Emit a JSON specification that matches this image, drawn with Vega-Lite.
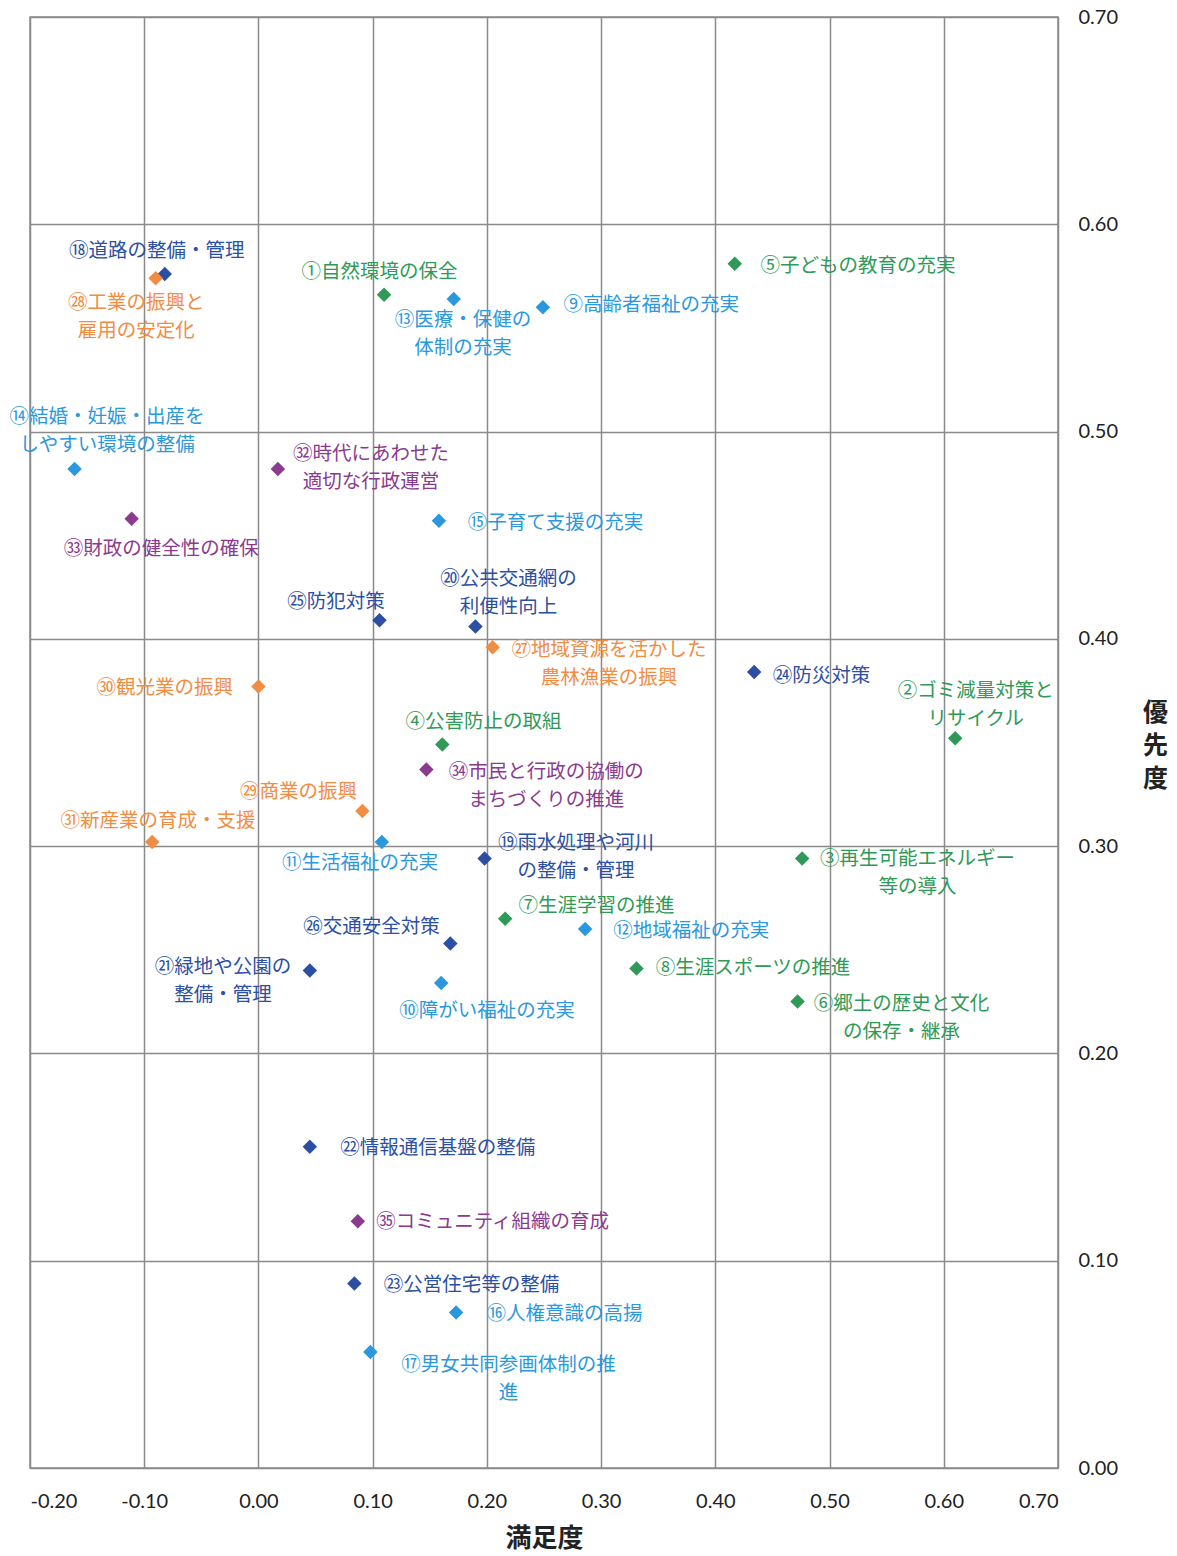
{
  "$schema": "https://vega.github.io/schema/vega-lite/v6.json",
  "width": 1028,
  "height": 1451,
  "autosize": {"type": "none"},
  "padding": {"left": 30, "top": 17, "right": 119, "bottom": 88},
  "background": "white",
  "config": {
    "view": {"stroke": "#8a8a8a", "strokeWidth": 1.5},
    "axis": {
      "grid": true,
      "gridColor": "#8a8a8a",
      "gridWidth": 1.5,
      "gridOpacity": 1,
      "domain": false,
      "ticks": false,
      "labelFont": "Lato",
      "labelFontSize": 20,
      "labelColor": "#222222",
      "titleFont": "Noto Sans CJK JP",
      "titleFontSize": 26,
      "titleFontWeight": "bold",
      "titleColor": "#222222"
    },
    "axisX": {"labelExpr": "replace(datum.label, '−', '-')", "labelPadding": 23, "titlePadding": 14},
    "axisY": {"titleX": 97, "titleY": 695, "titleAlign": "center", "titleBaseline": "middle", "titleAngle": 0, "titleFontSize": 25, "titleLineHeight": 33, "labelPadding": 20}
  },
  "data": {
    "values": [
      {"no": 1, "label": "①自然環境の保全", "group": "環境・教育", "x": 0.110, "y": 0.566, "lx": 0.106, "ly": 0.577},
      {"no": 2, "label": "②ゴミ減量対策と\nリサイクル", "group": "環境・教育", "x": 0.610, "y": 0.352, "lx": 0.628, "ly": 0.3748},
      {"no": 3, "label": "③再生可能エネルギー\n等の導入", "group": "環境・教育", "x": 0.476, "y": 0.294, "lx": 0.577, "ly": 0.2938},
      {"no": 4, "label": "④公害防止の取組", "group": "環境・教育", "x": 0.161, "y": 0.349, "lx": 0.197, "ly": 0.360},
      {"no": 5, "label": "⑤子どもの教育の充実", "group": "環境・教育", "x": 0.417, "y": 0.581, "lx": 0.525, "ly": 0.580},
      {"no": 6, "label": "⑥郷土の歴史と文化\nの保存・継承", "group": "環境・教育", "x": 0.472, "y": 0.225, "lx": 0.563, "ly": 0.2238},
      {"no": 7, "label": "⑦生涯学習の推進", "group": "環境・教育", "x": 0.216, "y": 0.265, "lx": 0.296, "ly": 0.271},
      {"no": 8, "label": "⑧生涯スポーツの推進", "group": "環境・教育", "x": 0.331, "y": 0.241, "lx": 0.433, "ly": 0.241},
      {"no": 9, "label": "⑨高齢者福祉の充実", "group": "健康・福祉", "x": 0.249, "y": 0.560, "lx": 0.344, "ly": 0.561},
      {"no": 10, "label": "⑩障がい福祉の充実", "group": "健康・福祉", "x": 0.160, "y": 0.234, "lx": 0.200, "ly": 0.2205},
      {"no": 11, "label": "⑪生活福祉の充実", "group": "健康・福祉", "x": 0.108, "y": 0.302, "lx": 0.089, "ly": 0.292},
      {"no": 12, "label": "⑫地域福祉の充実", "group": "健康・福祉", "x": 0.286, "y": 0.260, "lx": 0.379, "ly": 0.259},
      {"no": 13, "label": "⑬医療・保健の\n体制の充実", "group": "健康・福祉", "x": 0.171, "y": 0.564, "lx": 0.179, "ly": 0.5538},
      {"no": 14, "label": "⑭結婚・妊娠・出産を\nしやすい環境の整備", "group": "健康・福祉", "x": -0.161, "y": 0.482, "lx": -0.1325, "ly": 0.5068},
      {"no": 15, "label": "⑮子育て支援の充実", "group": "健康・福祉", "x": 0.158, "y": 0.457, "lx": 0.260, "ly": 0.456},
      {"no": 16, "label": "⑯人権意識の高揚", "group": "健康・福祉", "x": 0.173, "y": 0.075, "lx": 0.268, "ly": 0.0745},
      {"no": 17, "label": "⑰男女共同参画体制の推\n進", "group": "健康・福祉", "x": 0.098, "y": 0.056, "lx": 0.219, "ly": 0.0495},
      {"no": 18, "label": "⑱道路の整備・管理", "group": "都市基盤・安全", "x": -0.082, "y": 0.576, "lx": -0.089, "ly": 0.587},
      {"no": 19, "label": "⑲雨水処理や河川\nの整備・管理", "group": "都市基盤・安全", "x": 0.198, "y": 0.294, "lx": 0.278, "ly": 0.3013},
      {"no": 20, "label": "⑳公共交通網の\n利便性向上", "group": "都市基盤・安全", "x": 0.190, "y": 0.406, "lx": 0.219, "ly": 0.4288},
      {"no": 21, "label": "㉑緑地や公園の\n整備・管理", "group": "都市基盤・安全", "x": 0.045, "y": 0.240, "lx": -0.031, "ly": 0.2418},
      {"no": 22, "label": "㉒情報通信基盤の整備", "group": "都市基盤・安全", "x": 0.045, "y": 0.155, "lx": 0.157, "ly": 0.1545},
      {"no": 23, "label": "㉓公営住宅等の整備", "group": "都市基盤・安全", "x": 0.084, "y": 0.089, "lx": 0.1865, "ly": 0.0885},
      {"no": 24, "label": "㉔防災対策", "group": "都市基盤・安全", "x": 0.434, "y": 0.384, "lx": 0.493, "ly": 0.382},
      {"no": 25, "label": "㉕防犯対策", "group": "都市基盤・安全", "x": 0.106, "y": 0.409, "lx": 0.068, "ly": 0.418},
      {"no": 26, "label": "㉖交通安全対策", "group": "都市基盤・安全", "x": 0.168, "y": 0.253, "lx": 0.099, "ly": 0.261},
      {"no": 27, "label": "㉗地域資源を活かした\n農林漁業の振興", "group": "産業振興", "x": 0.205, "y": 0.396, "lx": 0.307, "ly": 0.3948},
      {"no": 28, "label": "㉘工業の振興と\n雇用の安定化", "group": "産業振興", "x": -0.090, "y": 0.574, "lx": -0.107, "ly": 0.5618},
      {"no": 29, "label": "㉙商業の振興", "group": "産業振興", "x": 0.091, "y": 0.317, "lx": 0.035, "ly": 0.326},
      {"no": 30, "label": "㉚観光業の振興", "group": "産業振興", "x": 0.000, "y": 0.377, "lx": -0.082, "ly": 0.3765},
      {"no": 31, "label": "㉛新産業の育成・支援", "group": "産業振興", "x": -0.093, "y": 0.302, "lx": -0.088, "ly": 0.312},
      {"no": 32, "label": "㉜時代にあわせた\n適切な行政運営", "group": "行政経営", "x": 0.017, "y": 0.482, "lx": 0.0985, "ly": 0.4893},
      {"no": 33, "label": "㉝財政の健全性の確保", "group": "行政経営", "x": -0.111, "y": 0.458, "lx": -0.085, "ly": 0.4435},
      {"no": 34, "label": "㉞市民と行政の協働の\nまちづくりの推進", "group": "行政経営", "x": 0.147, "y": 0.337, "lx": 0.252, "ly": 0.3358},
      {"no": 35, "label": "㉟コミュニティ組織の育成", "group": "行政経営", "x": 0.087, "y": 0.119, "lx": 0.205, "ly": 0.1185}
    ]
  },
  "layer": [
    {
      "mark": {"type": "point", "shape": "diamond", "filled": true, "opacity": 1, "size": 210},
      "encoding": {
        "x": {
          "field": "x", "type": "quantitative",
          "scale": {"domain": [-0.2, 0.7], "nice": false, "zero": false},
          "axis": {"values": [-0.2, -0.1, 0, 0.1, 0.2, 0.3, 0.4, 0.5, 0.6, 0.7], "format": ".2f", "title": "満足度"}
        },
        "y": {
          "field": "y", "type": "quantitative",
          "scale": {"domain": [0, 0.7], "nice": false, "zero": false},
          "axis": {"orient": "right", "values": [0, 0.1, 0.2, 0.3, 0.4, 0.5, 0.6, 0.7], "format": ".2f", "title": ["優", "先", "度"]}
        },
        "color": {
          "field": "group", "type": "nominal",
          "scale": {"domain": ["環境・教育", "健康・福祉", "都市基盤・安全", "産業振興", "行政経営"], "range": ["#2f9a57", "#2b98de", "#2c4fa3", "#f08d43", "#8b3b8e"]},
          "legend": null
        }
      }
    },
    {
      "mark": {"type": "text", "font": "Noto Sans CJK JP", "fontSize": 19.5, "align": "center", "baseline": "middle", "lineBreak": "\n", "lineHeight": 28},
      "encoding": {
        "x": {
          "field": "lx", "type": "quantitative",
          "scale": {"domain": [-0.2, 0.7], "nice": false, "zero": false},
          "axis": {"values": [-0.2, -0.1, 0, 0.1, 0.2, 0.3, 0.4, 0.5, 0.6, 0.7], "format": ".2f", "title": "満足度"}
        },
        "y": {
          "field": "ly", "type": "quantitative",
          "scale": {"domain": [0, 0.7], "nice": false, "zero": false},
          "axis": {"orient": "right", "values": [0, 0.1, 0.2, 0.3, 0.4, 0.5, 0.6, 0.7], "format": ".2f", "title": ["優", "先", "度"]}
        },
        "text": {"field": "label"},
        "color": {"field": "group", "type": "nominal", "legend": null}
      }
    }
  ]
}
